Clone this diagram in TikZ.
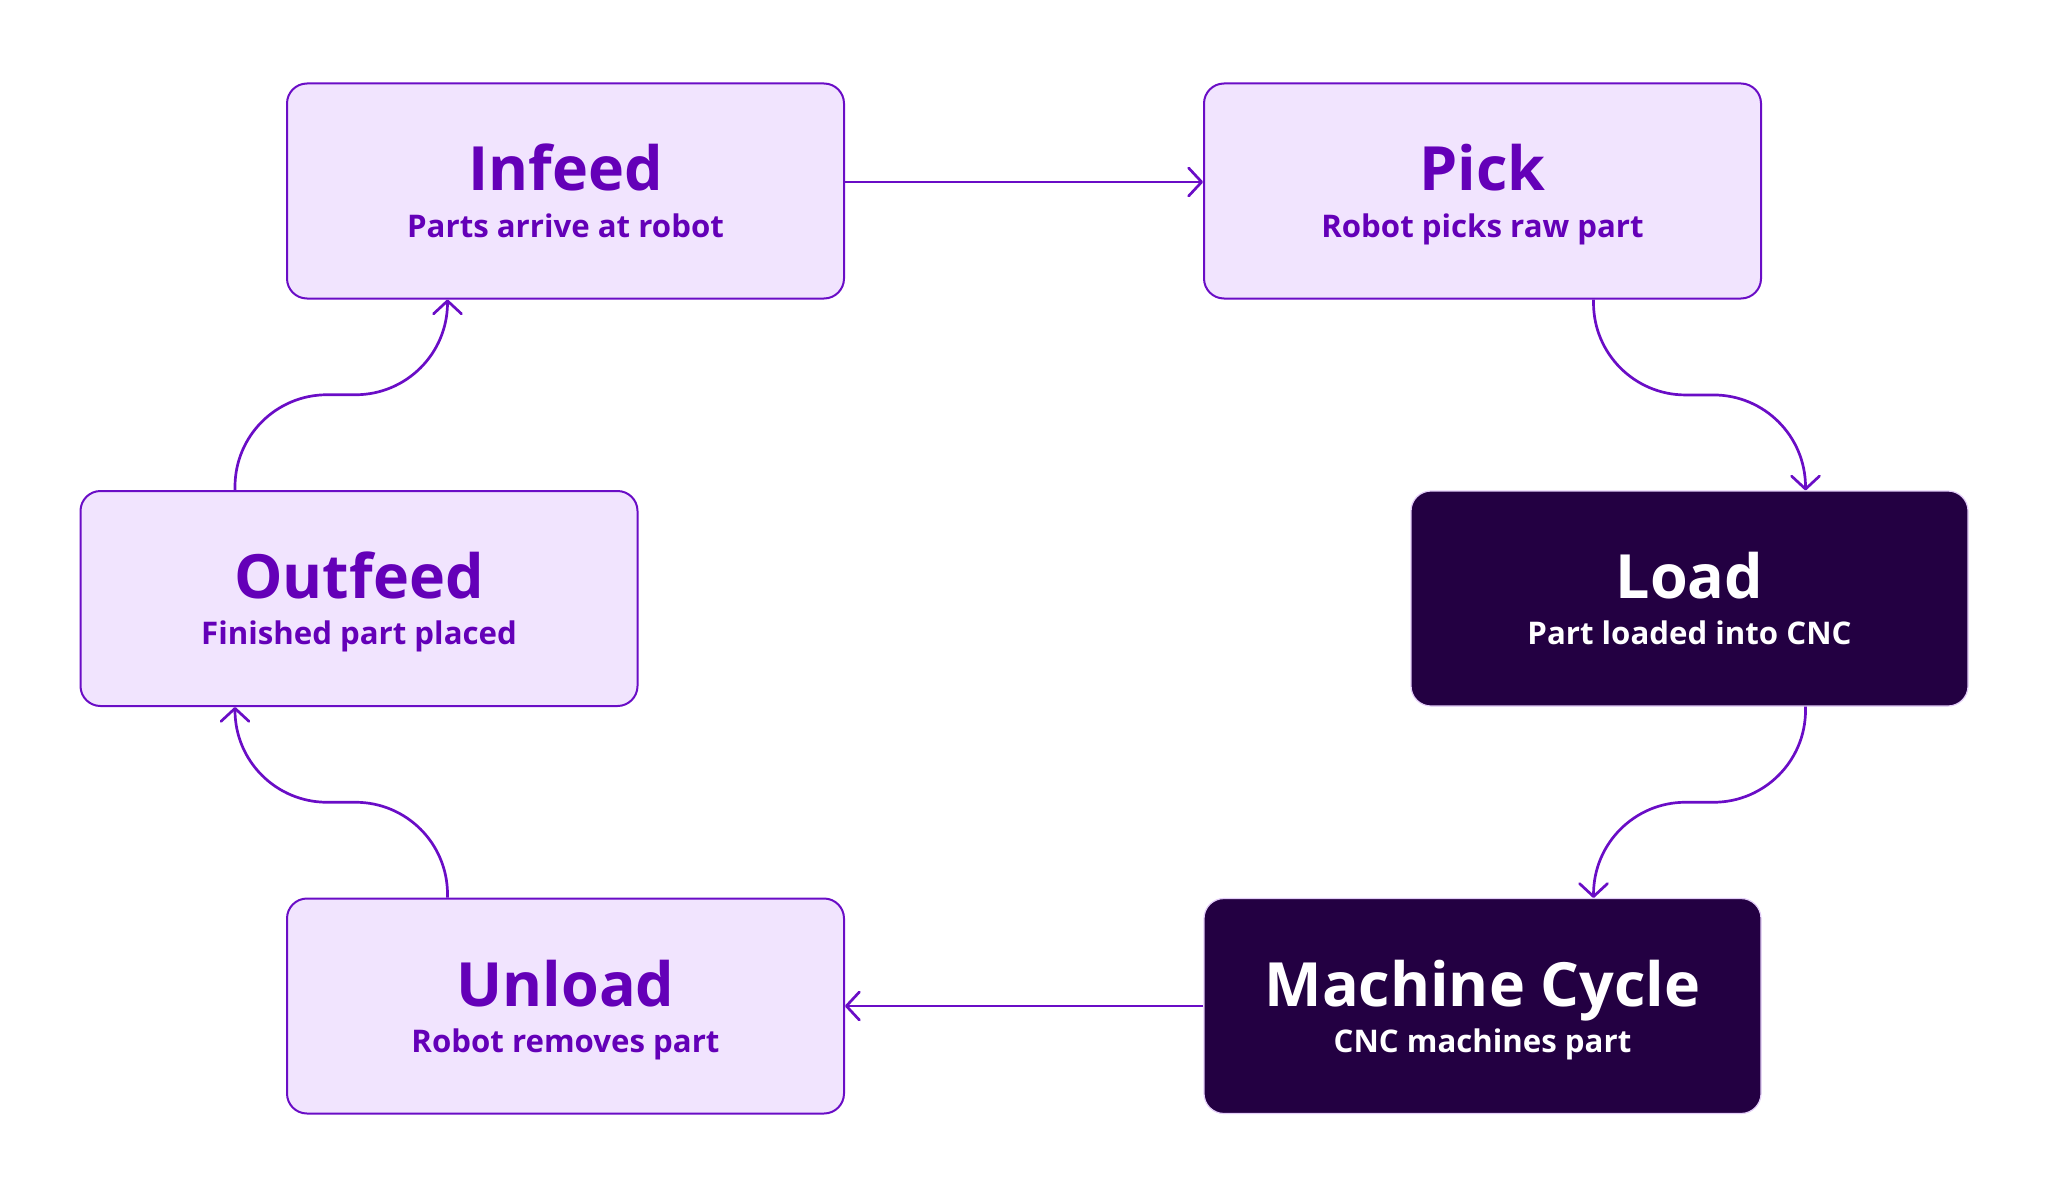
\documentclass[tikz,border=0pt]{standalone}
\usepackage{fontspec}
\setmainfont{Open Sans}
\usetikzlibrary{arrows.meta,calc}

\definecolor{flowpurple}{HTML}{6A0DC6}
\definecolor{textpurple}{HTML}{6400B8}
\definecolor{paleviolet}{HTML}{F1E4FE}
\definecolor{deepplum}{HTML}{230042}
\definecolor{lilacedge}{HTML}{E3CDF8}

\tikzset{
  stage/.style={rectangle, rounded corners=10pt, minimum width=278.5pt,
                minimum height=107.5pt, inner sep=0pt},
  lightstage/.style={stage, draw=flowpurple, line width=1pt, fill=paleviolet},
  darkstage/.style={stage, draw=lilacedge, line width=0.6pt, fill=deepplum},
  stagetitle/.style={anchor=base, inner sep=0pt,
                     font=\fontsize{30.5}{30.5}\selectfont\bfseries},
  stagenote/.style={anchor=base, inner sep=0pt,
                    font=\fontsize{15.6}{15.6}\selectfont\bfseries},
  flow/.style={draw=flowpurple, line width=1.35pt, rounded corners=46pt,
               -{Straight Barb[length=6.5pt,width=14pt,round]}}
}

\begin{document}
\begin{tikzpicture}[x=0.5pt, y=-0.5pt]
  \useasboundingbox (0,0) rectangle (2048,1198);

  % stages
  \node[lightstage] (infeed)  at (565.5,191)  {};
  \node[lightstage] (pick)    at (1482.5,191) {};
  \node[lightstage] (outfeed) at (359,598.5)  {};
  \node[darkstage]  (load)    at (1689.5,598.5) {};
  \node[lightstage] (unload)  at (565.5,1006) {};
  \node[darkstage]  (machine) at (1482.5,1006) {};

  % titles and notes
  \node[stagetitle, text=textpurple] (infeed-t) at (infeed.center) {Infeed};
  \node[stagenote, text=textpurple] (infeed-n) at ([yshift=-23pt]infeed.center) {Parts arrive at robot};
  \node[stagetitle, text=textpurple] (pick-t) at (pick.center) {Pick};
  \node[stagenote, text=textpurple] (pick-n) at ([yshift=-23pt]pick.center) {Robot picks raw part};
  \node[stagetitle, text=textpurple] (outfeed-t) at (outfeed.center) {Outfeed};
  \node[stagenote, text=textpurple] (outfeed-n) at ([yshift=-23pt]outfeed.center) {Finished part placed};
  \node[stagetitle, text=white] (load-t) at (load.center) {Load};
  \node[stagenote, text=white] (load-n) at ([yshift=-23pt]load.center) {Part loaded into CNC};
  \node[stagetitle, text=textpurple] (unload-t) at (unload.center) {Unload};
  \node[stagenote, text=textpurple] (unload-n) at ([yshift=-23pt]unload.center) {Robot removes part};
  \node[stagetitle, text=white] (machine-t) at (machine.center) {Machine Cycle};
  \node[stagenote, text=white] (machine-n) at ([yshift=-23pt]machine.center) {CNC machines part};

  % connector ends
  \coordinate (pick-out)    at ([xshift=55.5pt]pick.south);
  \coordinate (load-in)     at ([xshift=58pt]load.north);
  \coordinate (load-out)    at ([xshift=58pt]load.south);
  \coordinate (machine-in)  at ([xshift=55.5pt]machine.north);
  \coordinate (unload-out)  at ([xshift=-59pt]unload.north);
  \coordinate (outfeed-in)  at ([xshift=-62pt]outfeed.south);
  \coordinate (outfeed-out) at ([xshift=-62pt]outfeed.north);
  \coordinate (infeed-in)   at ([xshift=-59pt]infeed.south);
  \coordinate (right-top)   at ($(pick-out)!.5!(load-in)$);
  \coordinate (right-low)   at ($(load-out)!.5!(machine-in)$);
  \coordinate (left-low)    at ($(unload-out)!.5!(outfeed-in)$);
  \coordinate (left-top)    at ($(outfeed-out)!.5!(infeed-in)$);

  % flow
  \draw[flow] ([yshift=4.5pt]infeed.east) -- ([yshift=4.5pt]pick.west);
  \draw[flow] (pick-out) -- (pick-out |- right-top) -- (load-in |- right-top) -- (load-in);
  \draw[flow] (load-out) -- (load-out |- right-low) -- (machine-in |- right-low) -- (machine-in);
  \draw[flow] (machine.west) -- (unload.east);
  \draw[flow] (unload-out) -- (unload-out |- left-low) -- (outfeed-in |- left-low) -- (outfeed-in);
  \draw[flow] (outfeed-out) -- (outfeed-out |- left-top) -- (infeed-in |- left-top) -- (infeed-in);
\end{tikzpicture}
\end{document}
